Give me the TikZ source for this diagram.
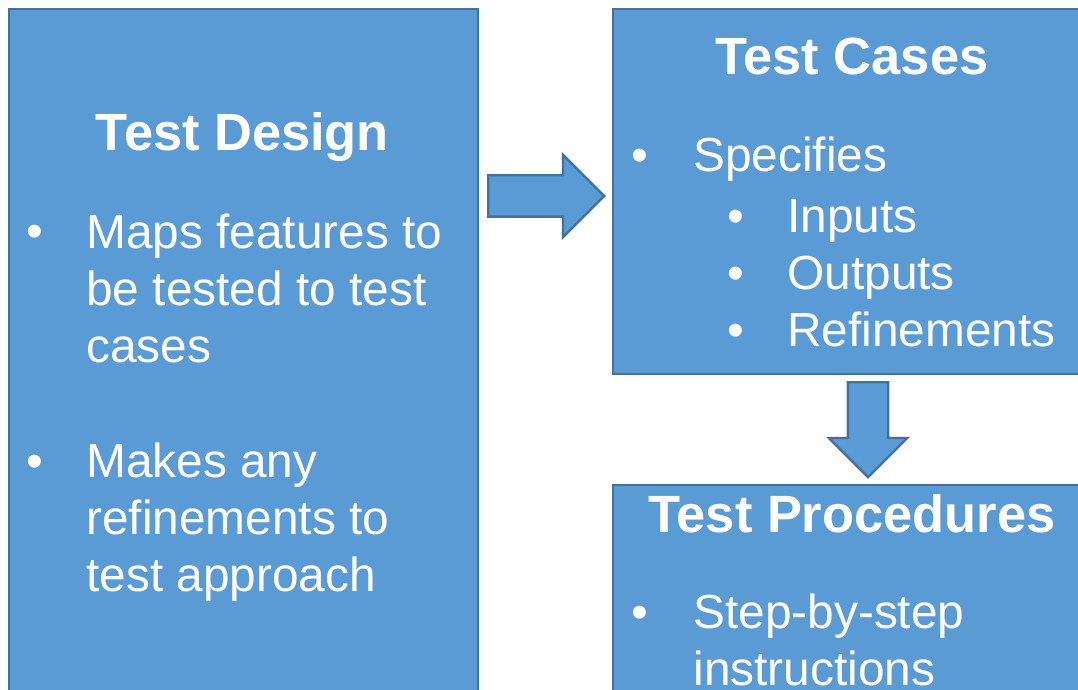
\documentclass[tikz,border=0pt]{standalone}
\usepackage{fontspec}
\setmainfont{Liberation Sans}
\usetikzlibrary{shapes.arrows}

\definecolor{panelblue}{HTML}{5B9BD5}
\definecolor{paneledge}{HTML}{41719C}

\begin{document}
\begin{tikzpicture}[
    x=0.5pt, y=-0.5pt,
    panel/.style={draw=paneledge, fill=panelblue, line width=1.2pt, inner sep=0pt, anchor=north west},
    title/.style={text=white, inner sep=0pt, anchor=base, font=\fontsize{26.2}{31}\selectfont\bfseries},
    item/.style={text=white, inner sep=0pt, anchor=base west, align=left, font=\fontsize{23.9}{28.65}\selectfont},
    dot/.style={item, anchor=base, align=center},
    blockarrow/.style={single arrow, draw=paneledge, fill=panelblue, line width=1.2pt, anchor=tail}
]
    \useasboundingbox (0,0) rectangle (1078,690);
    \clip (0,0) rectangle (1078,690);

    \node[panel, minimum width=234.5pt, minimum height=346pt] (design) at (8,8) {};
    \node[panel, minimum width=240pt, minimum height=182.5pt] (cases) at (612,8) {};
    \node[panel, minimum width=240pt, minimum height=108pt] (procs) at (612,484) {};

    \node[blockarrow, inner sep=9.75pt, minimum height=58pt, single arrow head extend=10.25pt] (toCases) at (487,196) {};
    \node[blockarrow, shape border rotate=270, inner sep=9.5pt, minimum height=47.5pt, single arrow head extend=9.5pt] (toProcs) at (868,381) {};

    % multi-line nodes sit on the baseline of their last line
    \node[title] (designTitle) at (242.5,151) {Test Design};
    \node[dot] (designDotA) at (35,248) {•};
    \node[item] (designItemA) at (86,362.6) {Maps features to\\be tested to test\\cases};
    \node[dot] (designDotB) at (35,477) {•};
    \node[item] (designItemB) at (86,591.6) {Makes any\\refinements to\\test approach};

    \node[title] (casesTitle) at (852,75) {Test Cases};
    \node[dot] (casesDot) at (640,172) {•};
    \node[item] (casesItem) at (693,172) {Specifies};
    \node[dot] (casesSubDots) at (736,346.6) {•\\•\\•};
    \node[item] (casesSub) at (787,346.6) {Inputs\\Outputs\\Refinements};

    \node[title] (procsTitle) at (852,532) {Test Procedures};
    \node[dot] (procsDot) at (640,628) {•};
    \node[item] (procsItem) at (693,685.3) {Step-by-step\\instructions};

\end{tikzpicture}
\end{document}
